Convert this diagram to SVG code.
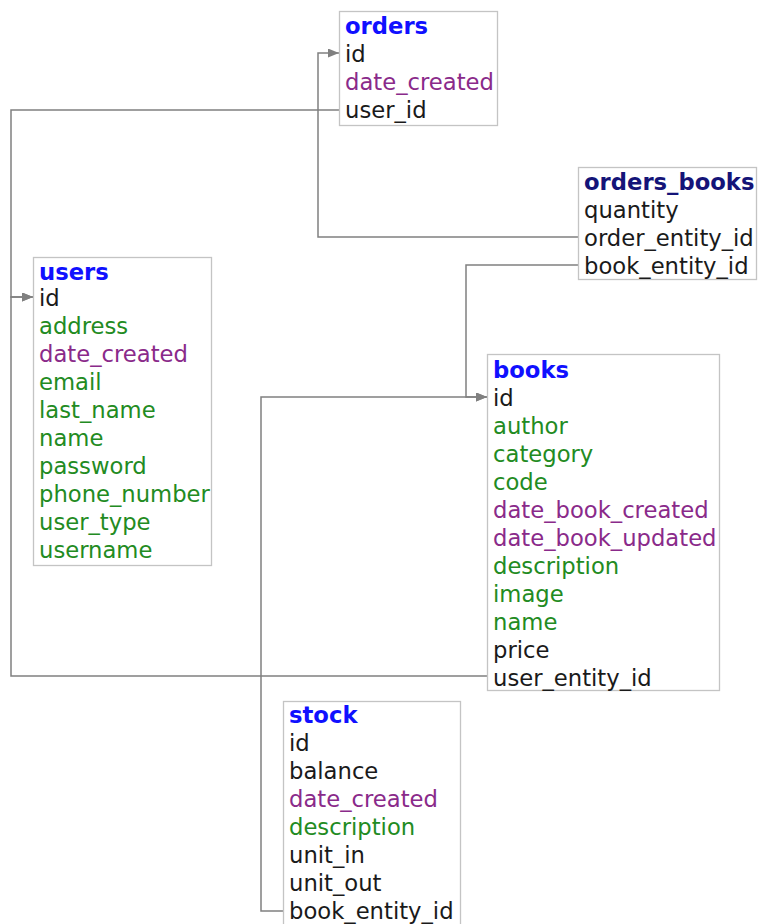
<svg xmlns="http://www.w3.org/2000/svg" width="759" height="924" viewBox="0 0 759 924">
  <style>
    .box { fill: #ffffff; stroke: #c4c4c4; stroke-width: 1.3; }
    text { font-family: "DejaVu Sans", Verdana, sans-serif; font-size: 22.7px; }
    .title { font-weight: bold; fill: #1010ff; }
    .jt { font-weight: bold; fill: #141478; }
    .k { fill: #1a1a1a; }
    .d { fill: #8a2a8a; }
    .f { fill: #228b22; }
    .edge { fill: none; stroke: #808080; stroke-width: 1.5; }
  </style>
  <defs>
    <marker id="arrow" markerWidth="11" markerHeight="9" refX="11" refY="4.5" orient="auto" markerUnits="userSpaceOnUse">
      <path d="M0,0 L11,4.5 L0,9 Z" fill="#808080"/>
    </marker>
  </defs>

  <g id="connectors">
    <!-- orders.user_id -> users.id -->
    <path class="edge" d="M339,110 H11 V297 H33" marker-end="url(#arrow)"/>
    <!-- books.user_entity_id -> users.id -->
    <path class="edge" d="M487,676 H11 V297 H33" marker-end="url(#arrow)"/>
    <!-- orders_books.order_entity_id -> orders.id -->
    <path class="edge" d="M578,237 H318 V53 H339" marker-end="url(#arrow)"/>
    <!-- orders_books.book_entity_id -> books.id -->
    <path class="edge" d="M578,265 H466 V397 H487" marker-end="url(#arrow)"/>
    <!-- stock.book_entity_id -> books.id -->
    <path class="edge" d="M283,911 H261 V397 H487" marker-end="url(#arrow)"/>
  </g>

  <g id="orders">
    <rect class="box" x="339.5" y="11.5" width="158" height="114"/>
    <text class="title" x="345" y="34">orders</text>
    <text class="k" x="345" y="62">id</text>
    <text class="d" x="345" y="90">date_created</text>
    <text class="k" x="345" y="118">user_id</text>
  </g>

  <g id="orders_books">
    <rect class="box" x="578.5" y="167.5" width="178" height="112"/>
    <text class="jt" x="584" y="190">orders_books</text>
    <text class="k" x="584" y="218">quantity</text>
    <text class="k" x="584" y="246">order_entity_id</text>
    <text class="k" x="584" y="274">book_entity_id</text>
  </g>

  <g id="users">
    <rect class="box" x="33.5" y="257.5" width="178" height="308"/>
    <text class="title" x="39" y="280">users</text>
    <text class="k" x="39" y="306">id</text>
    <text class="f" x="39" y="334">address</text>
    <text class="d" x="39" y="362">date_created</text>
    <text class="f" x="39" y="390">email</text>
    <text class="f" x="39" y="418">last_name</text>
    <text class="f" x="39" y="446">name</text>
    <text class="f" x="39" y="474">password</text>
    <text class="f" x="39" y="502">phone_number</text>
    <text class="f" x="39" y="530">user_type</text>
    <text class="f" x="39" y="558">username</text>
  </g>

  <g id="books">
    <rect class="box" x="487.5" y="354.5" width="232" height="336"/>
    <text class="title" x="493" y="378">books</text>
    <text class="k" x="493" y="406">id</text>
    <text class="f" x="493" y="434">author</text>
    <text class="f" x="493" y="462">category</text>
    <text class="f" x="493" y="490">code</text>
    <text class="d" x="493" y="518">date_book_created</text>
    <text class="d" x="493" y="546">date_book_updated</text>
    <text class="f" x="493" y="574">description</text>
    <text class="f" x="493" y="602">image</text>
    <text class="f" x="493" y="630">name</text>
    <text class="k" x="493" y="658">price</text>
    <text class="k" x="493" y="686">user_entity_id</text>
  </g>

  <g id="stock">
    <rect class="box" x="283.5" y="701.5" width="177" height="240"/>
    <text class="title" x="289" y="723">stock</text>
    <text class="k" x="289" y="751">id</text>
    <text class="k" x="289" y="779">balance</text>
    <text class="d" x="289" y="807">date_created</text>
    <text class="f" x="289" y="835">description</text>
    <text class="k" x="289" y="863">unit_in</text>
    <text class="k" x="289" y="891">unit_out</text>
    <text class="k" x="289" y="919">book_entity_id</text>
  </g>
</svg>
